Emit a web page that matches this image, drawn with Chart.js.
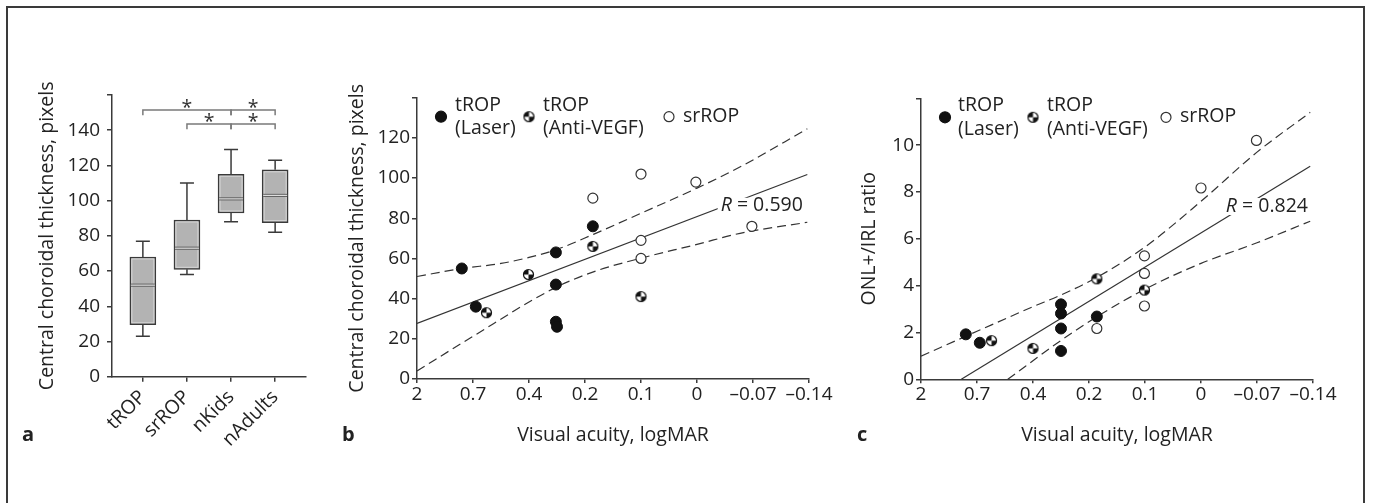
<!DOCTYPE html>
<html>
<head>
<meta charset="utf-8">
<script src="https://cdn.jsdelivr.net/npm/chart.js@4.4.0/dist/chart.umd.min.js"></script>
<style>
  body { margin: 0; background: #fff; }
  #wrap { position: relative; width: 1373px; height: 503px; overflow: hidden; }
  .frame { position: absolute; left: 6px; top: 6px; width: 1359px; height: 540px; box-sizing: border-box;
           border: 2px solid #3a3a3a; }
  canvas { position: absolute; top: 0; }
  .tag { position: absolute; top: 424px; font: bold 20px 'Open Sans', sans-serif; line-height: 20px; color: #222; }
</style>
</head>
<body>
<div id="wrap">
  <div class="frame"></div>
  <canvas id="panel-a" width="336" height="503" style="left:0px"></canvas>
  <canvas id="panel-b" width="509" height="503" style="left:330px"></canvas>
  <canvas id="panel-c" width="503" height="503" style="left:840px"></canvas>
  <div class="tag" style="left:22px">a</div>
  <div class="tag" style="left:342px">b</div>
  <div class="tag" style="left:857px">c</div>
</div>
<script>
//Global defaults
Chart.defaults.font.family = "'Open Sans', sans-serif";
Chart.defaults.font.size = 19;
Chart.defaults.color = '#222';
Chart.defaults.animation = false;

const titleFont = {size: 19.5};
const textFont = "19.5px 'Open Sans', sans-serif";

// ---- panel a: box plot values ----
const boxCategories = ['tROP', 'srROP', 'nKids', 'nAdults'];
const boxLow = [23, 58, 88, 82];
const boxQ1 = [29.5, 61, 93, 87.5];
const boxMedian = [52, 73, 101, 103];
const boxQ3 = [68, 89, 115, 117.5];
const boxHigh = [77, 110, 129, 123];

// significance brackets: from category, to category, bar height
const bracketFrom = [0, 2, 1, 2];
const bracketTo = [2, 3, 2, 3];
const bracketLevel = [151.5, 151.5, 143.5, 143.5];

// ---- panels b and c: x axis is ordinal visual acuity ----
const acuityTicks = ['2', '0.7', '0.4', '0.2', '0.1', '0', '\u20130.07', '\u20130.14'];

// b: choroidal thickness
const bLaserX = [0.8, 1.05, 2.48, 2.48, 2.48, 2.5, 3.14];
const bLaserY = [55, 36, 63, 47, 28.5, 26, 76];
const bAntiX = [1.24, 1.99, 3.14, 4.0];
const bAntiY = [33, 52, 66, 41];
const bSrX = [3.14, 4.0, 4.0, 4.0, 4.98, 5.98];
const bSrY = [90, 102, 69, 60, 98, 76];
const bFitX = [0, 6.97];
const bFitY = [27.7, 101.8];
const bUpperX = [0, 0.8, 1.5, 2.0, 2.5, 3.15, 4.0, 5.0, 5.8, 6.97];
const bUpperY = [51, 55, 57.5, 60.5, 64.5, 72, 82.5, 95, 106, 124.5];
const bLowerX = [0, 0.95, 2.48, 3.2, 3.98, 5.0, 5.77, 6.97];
const bLowerY = [4, 20.4, 45.6, 53.8, 60, 67, 72.5, 78];

// c: ONL+/IRL ratio
const cLaserX = [0.8, 1.05, 2.5, 2.5, 2.5, 2.5, 3.14];
const cLaserY = [1.92, 1.56, 3.2, 2.81, 2.17, 1.21, 2.68];
const cAntiX = [1.26, 2.0, 3.14, 3.99];
const cAntiY = [1.65, 1.32, 4.29, 3.81];
const cSrX = [3.14, 3.99, 3.99, 3.99, 5.0, 5.99];
const cSrY = [2.17, 5.27, 4.52, 3.13, 8.17, 10.2];
const cFitX = [0.72, 6.95];
const cFitY = [0, 9.1];
const cUpperX = [0, 1, 2, 2.5, 3.14, 4, 5, 6, 6.95];
const cUpperY = [0.99, 2.05, 3.1, 3.6, 4.35, 5.65, 7.6, 9.7, 11.4];
const cLowerX = [1.55, 2.5, 3.14, 4, 5, 6, 6.95];
const cLowerY = [0, 1.66, 2.67, 3.85, 4.95, 5.83, 6.75];

const toPoints = (xs, ys) => xs.map((x, i) => ({x: x, y: ys[i]}));

// half black / half white marker for the anti-VEGF group
function makeSplitMarker(r) {
    const c = document.createElement('canvas');
    const s = Math.ceil(r * 2 + 3);
    c.width = s; c.height = s;
    const g = c.getContext('2d');
    const m = s / 2;
    g.fillStyle = '#fff';
    g.beginPath(); g.arc(m, m, r, 0, Math.PI * 2); g.fill();
    g.fillStyle = '#111';
    g.beginPath(); g.moveTo(m, m); g.arc(m, m, r, Math.PI, 1.5 * Math.PI); g.closePath(); g.fill();
    g.beginPath(); g.moveTo(m, m); g.arc(m, m, r, 0, 0.5 * Math.PI); g.closePath(); g.fill();
    g.strokeStyle = '#111'; g.lineWidth = 1.2;
    g.beginPath(); g.arc(m, m, r, 0, Math.PI * 2); g.stroke();
    return c;
}
const splitMarker = makeSplitMarker(5);

const axisColor = '#3a3a3a';

function drawMarker(ctx, kind, x, y) {
    if (kind === 'split') {
        ctx.drawImage(splitMarker, x - splitMarker.width / 2, y - splitMarker.height / 2);
        return;
    }
    ctx.beginPath();
    ctx.arc(x, y, kind === 'filled' ? 5.5 : 5, 0, Math.PI * 2);
    ctx.fillStyle = kind === 'filled' ? '#111' : '#fff';
    ctx.fill();
    ctx.lineWidth = 1.2;
    ctx.strokeStyle = kind === 'filled' ? '#111' : '#333';
    ctx.stroke();
}

// legend + R label for the scatter panels
const panelDecor = {
    id: 'panelDecor',
    afterDatasetsDraw(chart, args, opts) {
        if (!opts.legend) return;
        const ctx = chart.ctx;
        const area = chart.chartArea;
        ctx.save();
        ctx.font = textFont;
        ctx.textBaseline = 'middle';
        ctx.textAlign = 'left';
        opts.legend.forEach(item => {
            drawMarker(ctx, item.marker, area.left + item.mx, area.top + 19);
            ctx.fillStyle = '#222';
            if (item.lines.length === 2) {
                ctx.fillText(item.lines[0], area.left + item.tx, area.top + 7.5);
                ctx.fillText(item.lines[1], area.left + item.tx, area.top + 31);
            } else {
                ctx.fillText(item.lines[0], area.left + item.tx, area.top + 18.5);
            }
        });
        // correlation label, right aligned at a data position
        const xr = chart.scales.x.getPixelForValue(opts.rAt[0]);
        const yr = chart.scales.y.getPixelForValue(opts.rAt[1]);
        ctx.font = textFont;
        const rest = ' = ' + opts.rValue;
        const wRest = ctx.measureText(rest).width;
        ctx.font = 'italic ' + textFont;
        const wR = ctx.measureText('R').width;
        ctx.fillStyle = '#fff';
        ctx.fillRect(xr - wRest - wR - 3, yr - 8, wRest + wR + 4, 17);
        ctx.fillStyle = '#222';
        ctx.fillText('R', xr - wRest - wR, yr);
        ctx.font = textFont;
        ctx.fillText(rest, xr - wRest, yr);
        ctx.restore();
    }
};

// whiskers, medians and significance brackets for the box plot
const boxDecor = {
    id: 'boxDecor',
    afterDatasetsDraw(chart, args, opts) {
        if (!opts.enabled) return;
        const ctx = chart.ctx;
        const xs = chart.scales.x, ys = chart.scales.y;
        const half = 13, cap = 7;
        ctx.save();
        for (let i = 0; i < boxCategories.length; i++) {
            const x = xs.getPixelForValue(i);
            const yLow = ys.getPixelForValue(boxLow[i]);
            const yQ1 = ys.getPixelForValue(boxQ1[i]);
            const yMed = ys.getPixelForValue(boxMedian[i]);
            const yQ3 = ys.getPixelForValue(boxQ3[i]);
            const yHigh = ys.getPixelForValue(boxHigh[i]);
            ctx.strokeStyle = axisColor;
            ctx.lineWidth = 1.5;
            ctx.beginPath();
            ctx.moveTo(x, yQ3); ctx.lineTo(x, yHigh);
            ctx.moveTo(x - cap, yHigh); ctx.lineTo(x + cap, yHigh);
            ctx.moveTo(x, yQ1); ctx.lineTo(x, yLow);
            ctx.moveTo(x - cap, yLow); ctx.lineTo(x + cap, yLow);
            ctx.stroke();
            // light inner edge
            ctx.strokeStyle = '#d6d6d6';
            ctx.lineWidth = 1;
            ctx.strokeRect(x - half + 2, yQ3 + 2, half * 2 - 4, yQ1 - yQ3 - 4);
            // median
            ctx.strokeStyle = '#555';
            ctx.lineWidth = 3;
            ctx.beginPath(); ctx.moveTo(x - half + 1, yMed); ctx.lineTo(x + half - 1, yMed); ctx.stroke();
            ctx.strokeStyle = '#e4e4e4';
            ctx.lineWidth = 1.2;
            ctx.beginPath(); ctx.moveTo(x - half + 1, yMed); ctx.lineTo(x + half - 1, yMed); ctx.stroke();
        }
        ctx.strokeStyle = '#7a7a7a';
        ctx.lineWidth = 1.5;
        ctx.fillStyle = '#333';
        ctx.font = textFont;
        ctx.textAlign = 'center';
        ctx.textBaseline = 'alphabetic';
        for (let i = 0; i < bracketFrom.length; i++) {
            const x1 = xs.getPixelForValue(bracketFrom[i]);
            const x2 = xs.getPixelForValue(bracketTo[i]);
            const y = ys.getPixelForValue(bracketLevel[i]);
            const yDrop = ys.getPixelForValue(bracketLevel[i] - 3);
            ctx.beginPath();
            ctx.moveTo(x1, yDrop); ctx.lineTo(x1, y); ctx.lineTo(x2, y); ctx.lineTo(x2, yDrop);
            ctx.stroke();
            ctx.fillText('*', (x1 + x2) / 2, y + 4);
        }
        ctx.restore();
    }
};

Chart.register(panelDecor, boxDecor);

function fixedAxis(width) {
    return scale => { scale.width = width; };
}
function fixedHeight(height) {
    return scale => { scale.height = height; };
}

// panel a
new Chart(document.getElementById('panel-a'), {
    type: 'bar',
    data: {
        datasets: [{
            data: boxQ1.map((q, i) => ({x: i, y: [q, boxQ3[i]]})),
            backgroundColor: '#b3b3b3',
            borderColor: axisColor,
            borderWidth: 1.5,
            borderSkipped: false,
            barThickness: 26,
        }],
    },
    options: {
        responsive: false,
        layout: {padding: {top: 95, right: 30, left: 0, bottom: 0}},
        scales: {
            x: {
                type: 'linear', min: -0.7, max: 3.7, offset: false,
                afterFit: fixedHeight(126.3),
                afterBuildTicks: scale => { scale.ticks = boxCategories.map((c, i) => ({value: i})); },
                ticks: {autoSkip: false, minRotation: 45, maxRotation: 45, padding: 4,
                        font: titleFont, callback: v => boxCategories[v]},
                grid: {offset: false, drawOnChartArea: false, tickLength: 5, color: axisColor, lineWidth: 1.5},
                border: {color: axisColor, width: 1.5},
            },
            y: {
                min: 0, max: 160,
                afterFit: fixedAxis(112),
                ticks: {stepSize: 20, padding: 7, callback: v => (v === 160 ? '' : v)},
                grid: {drawOnChartArea: false, tickLength: 5, color: axisColor, lineWidth: 1.5},
                border: {color: axisColor, width: 1.5},
                title: {display: true, text: 'Central choroidal thickness, pixels', font: titleFont,
                        padding: {top: 35.3, bottom: 0}},
            },
        },
        plugins: {legend: {display: false}, tooltip: {enabled: false}, boxDecor: {enabled: true}},
    },
});

function makeScatter({elementId, yTitle, yMax, yStep, yWidth, xHeight, padTop, titlePad,
                      laser, anti, sr, fit, upper, lower, legendItems, rValue, rAt}) {
    const lineStyle = {showLine: true, pointRadius: 0, borderColor: '#333', borderWidth: 1.2};
    new Chart(document.getElementById(elementId), {
        type: 'scatter',
        data: {
            datasets: [
                {data: laser, pointRadius: 5.5, pointBackgroundColor: '#111', pointBorderColor: '#111'},
                {data: anti, pointStyle: splitMarker},
                {data: sr, pointRadius: 5, pointBackgroundColor: '#fff', pointBorderColor: '#333', pointBorderWidth: 1.2},
                {data: fit, ...lineStyle},
                {data: upper, ...lineStyle, borderDash: [9, 5], cubicInterpolationMode: 'monotone'},
                {data: lower, ...lineStyle, borderDash: [9, 5], cubicInterpolationMode: 'monotone'},
            ],
        },
        options: {
            responsive: false,
            layout: {padding: {top: padTop, right: 30, left: 0, bottom: 0}},
            scales: {
                x: {
                    type: 'linear', min: 0, max: 7,
                    afterFit: fixedHeight(xHeight),
                    ticks: {stepSize: 1, autoSkip: false, maxRotation: 0, padding: 0,
                            callback: v => acuityTicks[v]},
                    grid: {drawOnChartArea: false, tickLength: 4, color: axisColor, lineWidth: 1.5},
                    border: {color: axisColor, width: 1.5},
                    title: {display: true, text: 'Visual acuity, logMAR', font: titleFont,
                            padding: {top: 0, bottom: 56.3}},
                },
                y: {
                    min: 0, max: yMax,
                    afterFit: fixedAxis(yWidth),
                    ticks: {stepSize: yStep, padding: 2, callback: v => (v === yMax ? '' : v)},
                    grid: {drawOnChartArea: false, tickLength: 5, color: axisColor, lineWidth: 1.5},
                    border: {color: axisColor, width: 1.5},
                    title: {display: true, text: yTitle, font: titleFont, padding: {top: titlePad, bottom: 0}},
                },
            },
            plugins: {
                legend: {display: false},
                tooltip: {enabled: false},
                panelDecor: {legend: legendItems, rValue: rValue, rAt: rAt},
            },
        },
    });
}

const chartConfigs = [
    {
        elementId: 'panel-b', yTitle: 'Central choroidal thickness, pixels', yMax: 140, yStep: 20,
        yWidth: 87, xHeight: 124, padTop: 97.7, titlePad: 15.3,
        laser: toPoints(bLaserX, bLaserY), anti: toPoints(bAntiX, bAntiY), sr: toPoints(bSrX, bSrY),
        fit: toPoints(bFitX, bFitY), upper: toPoints(bUpperX, bUpperY), lower: toPoints(bLowerX, bLowerY),
        legendItems: [
            {marker: 'filled', mx: 24, tx: 38, lines: ['tROP', '(Laser)']},
            {marker: 'split', mx: 112, tx: 126, lines: ['tROP', '(Anti-VEGF)']},
            {marker: 'open', mx: 252, tx: 266, lines: ['srROP']},
        ],
        rValue: '0.590', rAt: [6.89, 86.2],
    },
    {
        elementId: 'panel-c', yTitle: 'ONL+/IRL ratio', yMax: 12, yStep: 2,
        yWidth: 81, xHeight: 123.7, padTop: 98.3, titlePad: 17.8,
        laser: toPoints(cLaserX, cLaserY), anti: toPoints(cAntiX, cAntiY), sr: toPoints(cSrX, cSrY),
        fit: toPoints(cFitX, cFitY), upper: toPoints(cUpperX, cUpperY), lower: toPoints(cLowerX, cLowerY),
        legendItems: [
            {marker: 'filled', mx: 24, tx: 37, lines: ['tROP', '(Laser)']},
            {marker: 'split', mx: 112, tx: 126, lines: ['tROP', '(Anti-VEGF)']},
            {marker: 'open', mx: 245, tx: 259, lines: ['srROP']},
        ],
        rValue: '0.824', rAt: [6.91, 7.4],
    },
];

for (let i = 0; i < chartConfigs.length; i++) {
    makeScatter(chartConfigs[i]);
}
</script>
</body>
</html>
